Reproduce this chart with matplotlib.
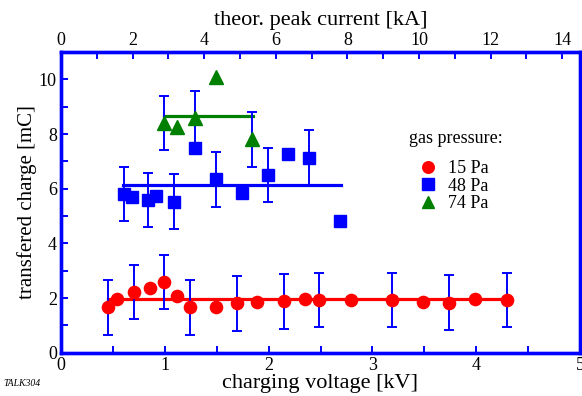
import numpy as np
import matplotlib; matplotlib.use('Agg')
import matplotlib.pyplot as plt
from matplotlib.ticker import MultipleLocator

plt.rcParams['font.family'] = ['Liberation Serif', 'DejaVu Serif']

# 15 Pa series
v15 = [0.45, 0.54, 0.70, 0.86, 0.99, 1.12, 1.24, 1.49, 1.70, 1.89, 2.15, 2.35, 2.49, 2.79, 3.19, 3.49, 3.74, 3.99, 4.30]
q15 = [1.66, 1.95, 2.22, 2.35, 2.59, 2.09, 1.66, 1.66, 1.81, 1.85, 1.88, 1.96, 1.93, 1.91, 1.93, 1.87, 1.83, 1.96, 1.93]
e15 = [1, 0, 1, 0, 1, 0, 1, 0, 1, 0, 1, 0, 1, 0, 1, 0, 1, 0, 1]
# 48 Pa series
v48 = [0.61, 0.68, 0.84, 0.92, 1.09, 1.29, 1.49, 1.74, 1.99, 2.19, 2.39, 2.69]
q48 = [5.80, 5.71, 5.59, 5.74, 5.52, 7.48, 6.34, 5.83, 6.50, 7.28, 7.13, 4.83]
e48 = [1, 0, 1, 0, 1, 0, 1, 0, 1, 0, 1, 0]
# 74 Pa series
v74 = [0.99, 1.12, 1.29, 1.49, 1.84]
q74 = [8.40, 8.27, 8.57, 10.07, 7.80]
e74 = [1, 0, 1, 0, 1]

# mean levels (value, v_start, v_end)
fit15 = (1.95, 0.45, 4.30)
fit48 = (6.15, 0.60, 2.70)
fit74 = (8.65, 0.99, 1.85)

kA_per_kV = 2.9
labels = ['15 Pa', '48 Pa', '74 Pa']

fig = plt.figure(figsize=(5.82, 3.96), dpi=100)
ax = fig.add_axes([61/582, 1-352.7/396, 519/582, 300.7/396])

series = [(v15, q15, e15, fit15, 'o', '#ff0000', 8.8),
          (v48, q48, e48, fit48, 's', '#0000ff', 8.4),
          (v74, q74, e74, fit74, '^', '#008000', 9.5)]
handles = []
for v, q, e, fit, mk, col, ms in series:
    v = np.array(v); q = np.array(q); e = np.array(e, float)
    ax.plot([fit[1], fit[2]], [fit[0], fit[0]], '-', color=col, lw=2.3, zorder=2)
    m = e > 0
    ax.errorbar(v[m], q[m], yerr=e[m], fmt='none', ecolor='#0000ff', elinewidth=1.4,
                capsize=3.5, capthick=1.4, zorder=3)
    h, = ax.plot(v, q, mk, color=col, ms=ms, mec=col, ls='none', zorder=4)
    handles.append(h)

ax.set_xlim(0, 5); ax.set_ylim(0, 11)
ax.xaxis.set_major_locator(MultipleLocator(1)); ax.xaxis.set_minor_locator(MultipleLocator(0.5))
ax.yaxis.set_major_locator(MultipleLocator(2)); ax.yaxis.set_minor_locator(MultipleLocator(1))
ax.tick_params(which='both', direction='in', color='#0000ff', width=1.4, length=5,
               labelsize=13, pad=3, right=False, top=False)
for s in ax.spines.values():
    s.set_color('#0000ff'); s.set_linewidth(2.4)
ax.set_xlabel('charging voltage [kV]', fontsize=16, labelpad=0)
ax.set_ylabel('transfered charge [mC]', fontsize=15, labelpad=1)

top = ax.twiny()
top.set_xlim(0, 5*kA_per_kV)
top.xaxis.set_major_locator(MultipleLocator(2)); top.xaxis.set_minor_locator(MultipleLocator(1))
top.tick_params(which='both', direction='in', color='#0000ff', width=1.4, length=5,
                labelsize=13, pad=2)
for s in top.spines.values():
    s.set_color('#0000ff'); s.set_linewidth(2.4)
top.set_xlabel('theor. peak current [kA]', fontsize=16, labelpad=5.5)

ax.text(0.670, 0.714, 'gas pressure:', transform=ax.transAxes, fontsize=13, va='center', ha='left')
ax.legend(handles, labels, loc='upper left', bbox_to_anchor=(0.690, 0.640), frameon=False,
          fontsize=13, borderpad=0, borderaxespad=0, handlelength=1.0, handletextpad=0.6,
          labelspacing=0.03, markerscale=0.95)

fig.text(3/582, 1-383/396, 'TALK304', fontsize=7, style='italic', va='center', ha='left')

fig.savefig('out.png', dpi=100)
